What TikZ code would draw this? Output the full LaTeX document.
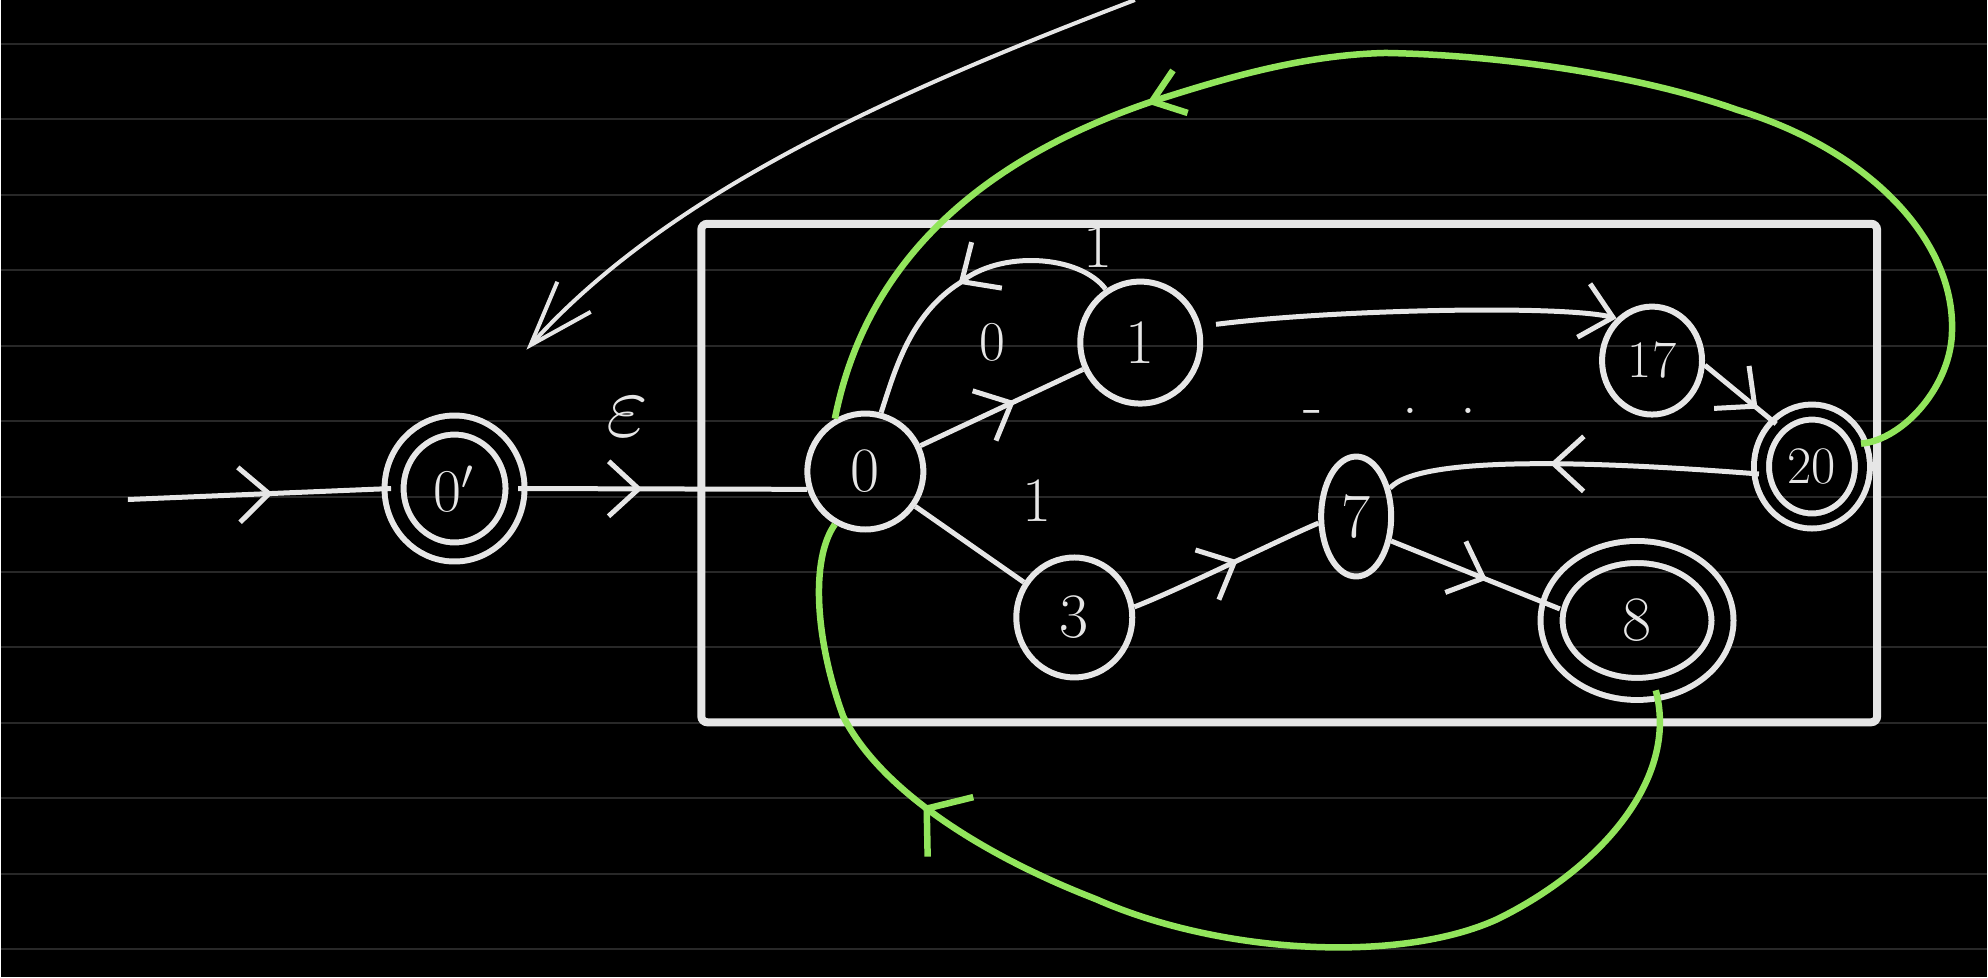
\documentclass[tikz,border=0pt]{standalone}
\usepackage{tikz}
\usetikzlibrary{automata, positioning, arrows.meta, calc, decorations.markings, shapes.geometric}
\definecolor{chalk}{RGB}{230,230,230}
\definecolor{hilite}{RGB}{146,229,92}
\definecolor{ruling}{RGB}{40,40,40}
\tikzset{
  nfa/.style={
	x=0.01cm, y=-0.01cm, % one unit per pixel of the sketch, y runs down
	color=chalk, % white chalk on the black board
	line width=0.05cm, % the edges
	>={Straight Barb[length=0.3cm, width=0.55cm]}, % open chevrons as drawn by hand
	node distance=3cm, % used by right of
	font=\fontsize{18}{20}\selectfont, % big hand written digits
	every state/.style={draw=chalk, line width=0.06cm, ellipse, inner sep=0pt}, % oval states
  },
  accepting/.style={double=black, double distance=#1}, % two rings
  accepting/.default=0.13cm,
  midtip/.style={postaction={decorate, decoration={markings, mark=at position #1 with {\arrow{>}}}}}, % chevron half way
  back/.style={hilite, line width=0.065cm}, % green edges going back
  small/.style={font=\fontsize{15}{17}\selectfont}, % two digit states
}
\begin{document}
\begin{tikzpicture}[nfa]
\fill[black] (0,0) rectangle (1988,978);
\foreach \k in {0,...,12}
  \draw[ruling, line width=0.02cm] (0,44+75.5*\k) -- (1988,44+75.5*\k);
\useasboundingbox (0,0) rectangle (1988,978);

\draw[line width=0.08cm, rounded corners=0.06cm] (701,224) rectangle (1878,723);

\node[state, accepting, minimum width=1.21cm, minimum height=1.27cm] (S0p) at (454,489) {$0'$};
\node[state, right of=S0p, xshift=1.11cm, yshift=0.17cm, minimum width=1.16cm, minimum height=1.16cm] (S0) {0};
\node[state, right of=S0, xshift=-0.25cm, yshift=1.29cm, minimum width=1.2cm, minimum height=1.22cm] (S1) {1};
\node[state, right of=S0, xshift=-0.91cm, yshift=-1.46cm, minimum width=1.16cm, minimum height=1.2cm] (S3) {3};
\node[state, right of=S3, xshift=-0.18cm, yshift=1.01cm, minimum width=0.7cm, minimum height=1.2cm] (S7) {7};
\node[state, accepting=0.16cm, right of=S7, xshift=-0.19cm, yshift=-1.04cm, minimum width=1.71cm, minimum height=1.37cm] (S8) {8};
\node[state, small, right of=S1, xshift=2.12cm, yshift=-0.18cm, minimum width=1.0cm, minimum height=1.08cm] (S17) {17};
\node[state, small, accepting=0.09cm, right of=S17, xshift=-1.4cm, yshift=-1.06cm, minimum width=1.01cm, minimum height=1.09cm] (S20) {20};
\node[anchor=base] (dots) at (1390,414) {\raisebox{-0.12cm}{-}\hspace{0.8cm}.\hspace{0.42cm}.};

\coordinate (in0) at (127,500);
\coordinate (wtop) at (1135,0);
\coordinate (wtip) at (526,350);

\draw[midtip=0.55] (in0) -- (S0p.west);
\draw[midtip=0.43] (S0p.east) -- node[pos=0.38, yshift=0.72cm, scale=1.5] (eps) {$\varepsilon$} (S0.197);
\draw[midtip=0.58] (S0) -- node[pos=0.44, yshift=0.7cm, font=\fontsize{16}{18}\selectfont] (l01) {0} (S1);
\draw[midtip=0.51] (S1.123) .. controls (1080,255) and (1000,250) .. (960,283) node[pos=0.15, xshift=0.07cm, yshift=0.29cm] (l10) {1}
  .. controls (910,315) and (895,370) .. (S0.75);
\draw (S0) -- node[pos=0.73, xshift=0.43cm, yshift=0.61cm] (l03) {1} (S3);
\draw[midtip=0.56] (S3.10) .. controls (1180,590) and (1280,540) .. (S7.190);
\draw[midtip=0.6, shorten >=-0.1cm] (S7.-35) -- (S8.170);
\draw[midtip=0.56] (S20.188) .. controls (1600,462) and (1420,455) .. (S7.40);
\draw[->, shorten <=0.15cm] (S1.15) .. controls (1330,310) and (1560,305) .. (S17.130);
\draw[midtip=0.74] (S17.-5) -- (S20.130);

\draw[line width=0.04cm, -{Straight Barb[length=0.65cm, width=0.45cm]}] (wtop) .. controls (900,90) and (670,190) .. (wtip);

% green edges back into the box
\draw[back, >={Straight Barb[length=0.3cm, width=0.45cm]}, midtip=0.7] (S20.25) .. controls (1905,440) and (1953,385) .. (1953,330)
  .. controls (1955,240) and (1870,150) .. (1738,110)
  .. controls (1640,75) and (1500,55) .. (1386,53)
  .. controls (1300,55) and (1220,80) .. (1151,102)
  .. controls (1010,150) and (870,240) .. (S0.120);
\draw[back, >={Straight Barb[length=0.3cm, width=0.75cm]}, midtip=0.74] (S8.-75) .. controls (1680,780) and (1600,870) .. (1498,920)
  .. controls (1400,965) and (1220,955) .. (1096,900)
  .. controls (980,855) and (880,790) .. (843,717)
  .. controls (815,640) and (810,560) .. (S0.-120);
\end{tikzpicture}
\end{document}
